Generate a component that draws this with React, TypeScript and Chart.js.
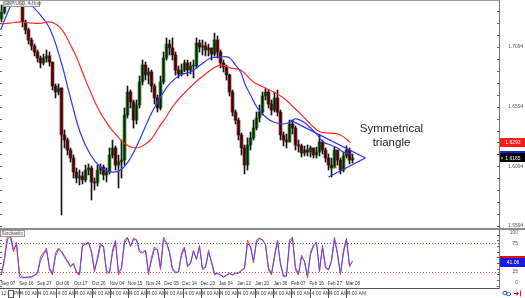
import React, { useEffect, useRef } from 'react';
import { Chart, registerables } from 'chart.js';

Chart.register(...registerables);

// ---------- DATA ----------
const firstOpen = 1.733;
const closes = [
  1.7387, 1.7446, 1.7513, 1.7538, 1.7522, 1.7555, 1.7505, 1.7304, 1.7237, 1.7153,
  1.7103, 1.7052, 1.7002, 1.696, 1.7002, 1.7019, 1.6968, 1.6767, 1.6717, 1.6751,
  1.6357, 1.6315, 1.6231, 1.6164, 1.6047, 1.5996, 1.6013, 1.598, 1.6063, 1.608,
  1.5963, 1.5955, 1.6063, 1.6089, 1.6022, 1.6047, 1.6189, 1.6248, 1.6105, 1.613,
  1.6147, 1.6524, 1.6717, 1.6633, 1.6482, 1.6608, 1.6801, 1.6943, 1.686, 1.6885,
  1.6767, 1.6667, 1.6583, 1.6801, 1.7002, 1.7119, 1.7086, 1.7027, 1.6901, 1.6868,
  1.6901, 1.696, 1.6901, 1.6935, 1.6935, 1.7128, 1.7094, 1.7103, 1.7069, 1.7086,
  1.7035, 1.7153, 1.7052, 1.696, 1.6927, 1.686, 1.6717, 1.6549, 1.6482, 1.6357,
  1.6248, 1.6105, 1.6273, 1.6332, 1.6415, 1.6499, 1.6549, 1.6684, 1.6717, 1.6616,
  1.6566, 1.6667, 1.6549, 1.6357, 1.6315, 1.6298, 1.6449, 1.6415, 1.6273, 1.6265,
  1.6206, 1.6231, 1.6214, 1.6248, 1.6189, 1.6214, 1.6298, 1.6231, 1.6164, 1.6105,
  1.608, 1.6231, 1.6147, 1.6063, 1.6181, 1.6231, 1.6147, 1.6165,
];
const highs = [
  1.7446, 1.7488, 1.7555, 1.7589, 1.7572, 1.7605, 1.7572, 1.7505, 1.732, 1.7253,
  1.717, 1.7119, 1.7069, 1.7019, 1.7035, 1.7069, 1.7052, 1.6968, 1.6784, 1.6784,
  1.6751, 1.6399, 1.6332, 1.6248, 1.6189, 1.608, 1.6063, 1.6047, 1.6105, 1.6114,
  1.6097, 1.5996, 1.6105, 1.6114, 1.6105, 1.608, 1.6248, 1.6315, 1.6265, 1.6189,
  1.6315, 1.6583, 1.6767, 1.6734, 1.665, 1.665, 1.6851, 1.6985, 1.6968, 1.6918,
  1.6901, 1.6784, 1.6692, 1.6851, 1.7052, 1.717, 1.7153, 1.717, 1.7052, 1.6935,
  1.6952, 1.6985, 1.6985, 1.6968, 1.6985, 1.717, 1.7153, 1.7153, 1.7136, 1.7119,
  1.7086, 1.7211, 1.7186, 1.7069, 1.6985, 1.6943, 1.6868, 1.6734, 1.6566, 1.6499,
  1.6373, 1.6273, 1.6332, 1.6382, 1.6482, 1.6549, 1.6608, 1.6717, 1.6751, 1.6734,
  1.665, 1.6717, 1.6734, 1.6566, 1.6382, 1.6365, 1.6482, 1.6482, 1.6432, 1.6315,
  1.6281, 1.6265, 1.6273, 1.6265, 1.6248, 1.6256, 1.6357, 1.6315, 1.6248, 1.6198,
  1.6164, 1.6256, 1.6231, 1.6164, 1.6214, 1.6265, 1.6248, 1.6198,
];
const lows = [
  1.7304, 1.7371, 1.7438, 1.7488, 1.7471, 1.7505, 1.7446, 1.7262, 1.7203, 1.7119,
  1.7069, 1.7019, 1.6968, 1.6918, 1.6943, 1.6968, 1.6935, 1.6734, 1.6667, 1.6692,
  1.5686, 1.6248, 1.6189, 1.613, 1.5996, 1.5955, 1.5938, 1.5946, 1.5963, 1.6022,
  1.5812, 1.5896, 1.5929, 1.603, 1.598, 1.5963, 1.603, 1.6164, 1.6063, 1.5913,
  1.5996, 1.6105, 1.6499, 1.6583, 1.6415, 1.6449, 1.6583, 1.6776, 1.6818, 1.6784,
  1.6717, 1.6616, 1.6549, 1.6566, 1.6784, 1.6985, 1.7027, 1.6985, 1.686, 1.6834,
  1.6851, 1.6885, 1.6851, 1.6868, 1.6834, 1.6918, 1.7052, 1.7027, 1.7019, 1.7019,
  1.6985, 1.7019, 1.7002, 1.6918, 1.6885, 1.6818, 1.6684, 1.6516, 1.6449, 1.6315,
  1.6189, 1.603, 1.6063, 1.6231, 1.6315, 1.6399, 1.6466, 1.6524, 1.665, 1.6583,
  1.6524, 1.6549, 1.6516, 1.6315, 1.6265, 1.6248, 1.6298, 1.6365, 1.6231, 1.6214,
  1.6172, 1.6181, 1.6181, 1.6172, 1.6164, 1.6164, 1.6181, 1.6198, 1.613, 1.6063,
  1.6005, 1.6097, 1.6105, 1.603, 1.6047, 1.6164, 1.6114, 1.6122,
];

// moving averages read at sample positions: [candle index, price]
const blueMA: [number, number][] = [
  [-0.3, 1.7237], [1.3, 1.7337], [3.0, 1.7438], [4.7, 1.7522], [6.3, 1.7555], [8.0, 1.7522],
  [9.7, 1.7454], [13.0, 1.7362], [16.3, 1.7237], [19.7, 1.6985], [23.0, 1.6667], [26.3, 1.6373],
  [29.7, 1.6189], [33.0, 1.6089], [36.3, 1.6047], [39.7, 1.6063], [43.0, 1.6164], [46.3, 1.6332],
  [49.7, 1.6524], [53.0, 1.6675], [56.3, 1.6793], [59.7, 1.686], [63.0, 1.6885], [66.3, 1.6943],
  [69.7, 1.7002], [73.0, 1.701], [75.7, 1.7008], [78.0, 1.6943], [79.7, 1.6885], [81.3, 1.6776],
  [83.0, 1.6692], [85.3, 1.6583], [88.0, 1.6508], [90.7, 1.6466], [94.0, 1.6449], [96.3, 1.6466],
  [98.0, 1.6491], [100.7, 1.6466], [103.0, 1.6415], [105.3, 1.6357], [107.3, 1.6298], [109.7, 1.6273],
  [112.0, 1.6248], [114.0, 1.6214], [117.0, 1.6189],
];
const redMA: [number, number][] = [
  [-0.3, 1.7287], [3.0, 1.7295], [6.3, 1.7304], [9.7, 1.7295], [13.0, 1.7293], [15.7, 1.7304],
  [18.0, 1.7287], [19.7, 1.7253], [21.3, 1.7195], [23.0, 1.7111], [24.7, 1.7027], [26.3, 1.6927],
  [28.0, 1.6818], [29.7, 1.6717], [31.3, 1.6625], [33.0, 1.6541], [34.7, 1.6474], [36.3, 1.6415],
  [38.0, 1.6365], [39.7, 1.6315], [41.3, 1.6281], [43.0, 1.6256], [44.7, 1.6248], [46.3, 1.6256],
  [48.0, 1.6281], [49.7, 1.6315], [51.3, 1.6373], [53.0, 1.6441], [54.7, 1.6499], [56.3, 1.6566],
  [58.0, 1.6625], [59.7, 1.6675], [61.3, 1.6717], [63.0, 1.6759], [64.7, 1.6801], [66.3, 1.6834],
  [68.0, 1.6868], [69.7, 1.6901], [71.3, 1.6927], [73.0, 1.6943], [74.7, 1.6935], [76.3, 1.6918],
  [79.7, 1.6901], [84.0, 1.6801], [87.3, 1.6759], [90.7, 1.6717], [94.0, 1.6667], [97.3, 1.6591],
  [100.7, 1.6508], [104.0, 1.6424], [106.3, 1.6382], [109.7, 1.6373], [113.0, 1.6357], [116.3, 1.6293],
];

// symmetrical triangle trend lines: [candle index, price]
const trendUpper: [number, number][] = [[96.3, 1.6482], [121.3, 1.6164]];
const trendLower: [number, number][] = [[109.0, 1.6005], [121.3, 1.6164]];

// stochastic oscillator (%K red, %D blue)
const stochK = [
  18.9, 50.6, 89.4, 85.9, 59.4, 77.1, 15.3, 13.6, 15.3, 15.3,
  15.3, 18.9, 22.4, 50.6, 57.7, 66.5, 27.7, 18.9, 57.7, 66.5,
  59.4, 50.6, 41.8, 33.0, 40.0, 22.4, 18.9, 75.3, 71.8, 77.1,
  57.7, 24.2, 50.6, 75.3, 68.3, 22.4, 22.4, 63.0, 80.6, 18.9,
  33.0, 80.6, 85.9, 68.3, 84.1, 80.6, 59.4, 57.7, 63.0, 18.9,
  50.6, 68.3, 63.0, 27.7, 85.9, 75.3, 57.7, 27.7, 22.4, 24.2,
  57.7, 68.3, 33.0, 40.0, 63.0, 45.3, 71.8, 27.7, 33.0, 63.0,
  40.0, 18.9, 22.4, 18.9, 15.3, 18.9, 22.4, 18.9, 22.4, 22.4,
  27.7, 31.2, 80.6, 68.3, 40.0, 80.6, 84.1, 80.6, 71.8, 27.7,
  18.9, 54.1, 80.6, 36.5, 15.3, 17.1, 80.6, 85.9, 27.7, 18.9,
  54.1, 41.8, 13.6, 59.4, 71.8, 77.1, 24.2, 71.8, 31.2, 27.7,
  45.3, 85.9, 54.1, 18.9, 63.0, 84.1, 33.0, 44.0,
];
const stochD = [
  22, 45, 82, 88, 64, 72, 22, 15, 14, 15,
  16, 18, 21, 45, 55, 63, 32, 21, 52, 64,
  61, 52, 44, 35, 38, 25, 20, 70, 73, 76,
  61, 28, 46, 71, 70, 27, 23, 57, 78, 24,
  30, 75, 84, 71, 81, 81, 63, 58, 62, 24,
  45, 65, 64, 32, 80, 77, 60, 31, 24, 24,
  53, 66, 36, 39, 60, 48, 68, 31, 32, 59,
  43, 22, 21, 19, 16, 18, 21, 19, 22, 22,
  27, 30, 74, 70, 44, 76, 83, 81, 73, 32,
  21, 50, 77, 40, 18, 17, 74, 84, 32, 21,
  50, 44, 17, 55, 70, 76, 28, 67, 34, 28,
  43, 81, 57, 22, 58, 81, 37, 41.06,
];

const dateLabels = [
  'Sep 07', 'Sep 16', 'Sep 27', 'Oct 06', 'Oct 17', 'Oct 26', 'Nov 04', 'Nov 15', 'Nov 24', 'Dec 05',
  'Dec 14', 'Dec 23', 'Jan 04', 'Jan 12', 'Jan 20', 'Jan 30', 'Feb 07', 'Feb 16', 'Feb 27', 'Mar 08',
];
const priceLabels = [1.5594, 1.6094, 1.6594, 1.7094];
const stochLabels = [100, 75, 25, 0];
const lastPrice = 1.6165;
const redMALast = 1.6293;
const stochKLast = 44;
const stochDLast = 41.06;

// ---------- LAYOUT CONSTANTS ----------
const W = 525;
const H = 298;
const X_MIN = -0.5;
const X_MAX = 166.1667;
const P_MIN = 1.5569;
const P_MAX = 1.7488;
const S_MIN = -4;
const S_MAX = 100;
const DATE_START = 2.2;
const DATE_STEP = 6.05;
const FONT = '"Liberation Sans", Arial, sans-serif';

const opens = closes.map((c, i) => (i === 0 ? firstOpen : closes[i - 1]));

const chromePlugin = {
  id: 'chrome',
  beforeDatasetsDraw(chart: any) {
    const { ctx, chartArea, scales } = chart;
    const ys = scales.ys;
    ctx.save();
    ctx.lineWidth = 1;
    ctx.setLineDash([1, 2]);
    const lvl = (v: number, color: string) => {
      const py = Math.round(ys.getPixelForValue(v)) + 0.5;
      ctx.strokeStyle = color;
      ctx.beginPath();
      ctx.moveTo(chartArea.left, py);
      ctx.lineTo(chartArea.right, py);
      ctx.stroke();
    };
    lvl(75, '#4b4bff');
    lvl(25, '#ff5050');
    ctx.restore();
  },
  afterDraw(chart: any) {
    const { ctx, chartArea, scales } = chart;
    const x = scales.x;
    const y = scales.y;
    const ys = scales.ys;
    const R = chartArea.right;
    ctx.save();

    // frame lines
    ctx.lineWidth = 1;
    ctx.strokeStyle = '#a0a0a0';
    ctx.beginPath();
    ctx.moveTo(0, 0.5);
    ctx.lineTo(R, 0.5);
    ctx.stroke();
    ctx.strokeStyle = '#8c8c8c';
    ctx.lineWidth = 2;
    const sep = ys.top;
    ctx.beginPath();
    ctx.moveTo(0, sep);
    ctx.lineTo(W, sep);
    ctx.stroke();
    ctx.lineWidth = 1;
    ctx.strokeStyle = '#555';
    ctx.beginPath();
    ctx.moveTo(0, chartArea.bottom + 0.5);
    ctx.lineTo(R, chartArea.bottom + 0.5);
    ctx.stroke();
    ctx.strokeStyle = '#7a7a7a';
    ctx.beginPath();
    ctx.moveTo(R - 0.5, 0);
    ctx.lineTo(R - 0.5, chartArea.bottom + 1);
    ctx.stroke();

    // price ticks
    ctx.strokeStyle = '#666';
    for (let k = 0; k < 19; k++) {
      const p = 1.5594 + k * 0.01;
      const py = Math.round(y.getPixelForValue(p)) + 0.5;
      if (py < 2 || py > y.bottom - 1) continue;
      ctx.beginPath();
      ctx.moveTo(R - 3, py);
      ctx.lineTo(R, py);
      ctx.moveTo(0, py);
      ctx.lineTo(2, py);
      ctx.stroke();
    }
    for (let v = 0; v <= 100; v += 10) {
      const py = Math.round(ys.getPixelForValue(v)) + 0.5;
      if (py < ys.top + 2) continue;
      ctx.beginPath();
      ctx.moveTo(R - 3, py);
      ctx.lineTo(R, py);
      ctx.moveTo(0, py);
      ctx.lineTo(2, py);
      ctx.stroke();
    }

    // price labels
    ctx.font = `5px ${FONT}`;
    ctx.fillStyle = '#555';
    ctx.textAlign = 'left';
    ctx.textBaseline = 'middle';
    priceLabels.forEach((p) => {
      ctx.fillText(p.toFixed(4), R + 8, y.getPixelForValue(p));
    });

    const box = (val: number, scale: any, bg: string, text: string | null) => {
      const cy = scale.getPixelForValue(val);
      ctx.fillStyle = bg;
      ctx.fillRect(R, Math.round(cy - 4.5), W - R, 9);
      if (text) {
        ctx.fillStyle = '#fff';
        ctx.textAlign = 'center';
        ctx.fillText(text, R + 13, cy + 0.5);
      }
    };
    box(redMALast, y, '#ff1a1a', redMALast.toFixed(4));
    box(blueMA[blueMA.length - 1][1], y, '#2020e0', null);
    box(lastPrice, y, '#000', lastPrice.toFixed(4));
    ctx.fillStyle = '#fff';
    const lp = y.getPixelForValue(lastPrice);
    ctx.beginPath();
    ctx.moveTo(R + 1.5, lp - 1.5);
    ctx.lineTo(R + 3, lp);
    ctx.lineTo(R + 1.5, lp + 1.5);
    ctx.fill();

    // stochastic labels
    ctx.fillStyle = '#555';
    ctx.textAlign = 'right';
    stochLabels.forEach((v) => {
      let py = ys.getPixelForValue(v);
      py = Math.min(Math.max(py, ys.top + 4), ys.bottom - 5);
      ctx.fillText(String(v), R + 18, py);
    });
    box(stochKLast, ys, '#e01010', null);
    box(stochDLast, ys, '#1a1ae6', stochDLast.toFixed(2));

    // date labels
    ctx.fillStyle = '#333';
    ctx.textAlign = 'center';
    ctx.font = `4.6px ${FONT}`;
    dateLabels.forEach((d, k) => {
      const px = x.getPixelForValue(DATE_START + k * DATE_STEP);
      ctx.fillText(d, px, chartArea.bottom - 4);
    });

    // bottom time row
    const by = chartArea.bottom + 5.5;
    ctx.fillStyle = '#444';
    ctx.textAlign = 'left';
    ctx.font = `5px ${FONT}`;
    ctx.fillText('12:', 1, by);
    ctx.strokeStyle = '#555';
    ctx.strokeRect(8.5, chartArea.bottom + 2.5, 5, 7);
    dateLabels.forEach((d, k) => {
      if (k === 0) return;
      const px = Math.round(x.getPixelForValue(DATE_START + k * DATE_STEP)) - 7;
      ctx.beginPath();
      ctx.moveTo(px + 0.5, chartArea.bottom + 1);
      ctx.lineTo(px + 0.5, H);
      ctx.stroke();
      ctx.fillText('4:00 AM', px + 1.5, by);
    });
    ctx.fillText('PM', 14, by);

    // panel title boxes
    const tag = (text: string, tx: number, ty: number, tw: number) => {
      ctx.fillStyle = 'rgba(245,245,245,0.85)';
      ctx.fillRect(tx, ty, tw, 7);
      ctx.strokeStyle = '#999';
      ctx.strokeRect(tx + 0.5, ty + 0.5, tw - 1, 6);
      ctx.fillStyle = '#555';
      ctx.textAlign = 'left';
      ctx.font = `4.6px ${FONT}`;
      ctx.fillText(text, tx + 1.5, ty + 3.8);
    };
    tag('GBP/USD, 4-Hour', 3, 0, 37);
    tag('Stochastic', 0, ys.top + 1, 25);

    // annotation text
    ctx.fillStyle = '#1e1e1e';
    ctx.textAlign = 'center';
    ctx.font = `11.5px ${FONT}`;
    ctx.fillText('Symmetrical', x.getPixelForValue(130), y.getPixelForValue(1.6407));
    ctx.fillText('triangle', x.getPixelForValue(130), y.getPixelForValue(1.629));

    // small icons bottom right
    ctx.strokeStyle = '#2a5bd7';
    ctx.lineWidth = 1;
    ctx.beginPath();
    ctx.ellipse(505, 293, 2.2, 1.7, 0, 0, Math.PI * 2);
    ctx.stroke();
    ctx.beginPath();
    ctx.ellipse(508.5, 294, 2.2, 1.7, 0, 0, Math.PI * 2);
    ctx.stroke();
    ctx.strokeStyle = '#e02020';
    ctx.fillStyle = '#e02020';
    ctx.beginPath();
    ctx.moveTo(514, 293.5);
    ctx.lineTo(518, 293.5);
    ctx.stroke();
    ctx.beginPath();
    ctx.moveTo(519, 293.5);
    ctx.lineTo(516.5, 291);
    ctx.lineTo(516.5, 296);
    ctx.fill();
    ctx.beginPath();
    ctx.moveTo(520.5, 290.5);
    ctx.lineTo(520.5, 296.5);
    ctx.stroke();

    ctx.restore();
  },
};

export default function App() {
  const ref = useRef<HTMLCanvasElement | null>(null);

  useEffect(() => {
    if (!ref.current) return;
    const wickData = closes.map((_, i) => ({ x: i, y: [lows[i], highs[i]] }));
    const bodyData = closes.map((c, i) => ({ x: i, y: [opens[i], c] }));
    const bodyColors = closes.map((c, i) => (c >= opens[i] ? '#1e8c1e' : '#9e1212'));
    const pts = (arr: [number, number][]) => arr.map(([a, b]) => ({ x: a, y: b }));

    const axisCommon = {
      position: 'right' as const,
      stack: 'panes',
      grid: { display: false },
      border: { display: false },
      ticks: { display: false },
      afterFit: (s: any) => {
        s.width = W - 500;
      },
    };

    const chart = new Chart(ref.current, {
      type: 'bar',
      data: {
        datasets: [
          {
            type: 'line',
            data: pts(trendUpper),
            borderColor: '#2f2ff0',
            borderWidth: 1.3,
            pointRadius: 0,
            yAxisID: 'y',
            order: 0,
          },
          {
            type: 'line',
            data: pts(trendLower),
            borderColor: '#2f2ff0',
            borderWidth: 1.3,
            pointRadius: 0,
            yAxisID: 'y',
            order: 0,
          },
          {
            type: 'line',
            data: pts(redMA),
            borderColor: '#ff2a2a',
            borderWidth: 1.2,
            pointRadius: 0,
            tension: 0.4,
            yAxisID: 'y',
            order: 1,
          },
          {
            type: 'line',
            data: pts(blueMA),
            borderColor: '#3535ff',
            borderWidth: 1.2,
            pointRadius: 0,
            tension: 0.4,
            yAxisID: 'y',
            order: 1,
          },
          {
            type: 'bar',
            data: wickData as any,
            backgroundColor: '#151515',
            barThickness: 1,
            grouped: false,
            yAxisID: 'y',
            order: 2,
          },
          {
            type: 'bar',
            data: bodyData as any,
            backgroundColor: bodyColors,
            barThickness: 3,
            minBarLength: 1,
            grouped: false,
            yAxisID: 'y',
            order: 3,
          },
          {
            type: 'line',
            data: stochD.map((v, i) => ({ x: i, y: v })),
            borderColor: '#4a4aff',
            borderWidth: 1,
            pointRadius: 0,
            yAxisID: 'ys',
            order: 4,
          },
          {
            type: 'line',
            data: stochK.map((v, i) => ({ x: i, y: v })),
            borderColor: '#ff3c3c',
            borderWidth: 1,
            pointRadius: 0,
            yAxisID: 'ys',
            order: 5,
          },
        ],
      },
      options: {
        animation: false,
        responsive: false,
        maintainAspectRatio: false,
        events: [],
        layout: { padding: { top: 0, left: 0, right: 0, bottom: 10 } },
        plugins: { legend: { display: false }, tooltip: { enabled: false } },
        scales: {
          x: { type: 'linear', min: X_MIN, max: X_MAX, display: false, offset: false },
          y: { ...axisCommon, min: P_MIN, max: P_MAX, stackWeight: 229 },
          ys: { ...axisCommon, min: S_MIN, max: S_MAX, stackWeight: 59 },
        },
      } as any,
      plugins: [chromePlugin],
    });
    return () => chart.destroy();
  }, []);

  return (
    <div style={{ position: 'fixed', left: 0, top: 0, width: W, height: H, background: '#fff' }}>
      <canvas ref={ref} width={W} height={H} style={{ display: 'block', width: W, height: H }} />
    </div>
  );
}
